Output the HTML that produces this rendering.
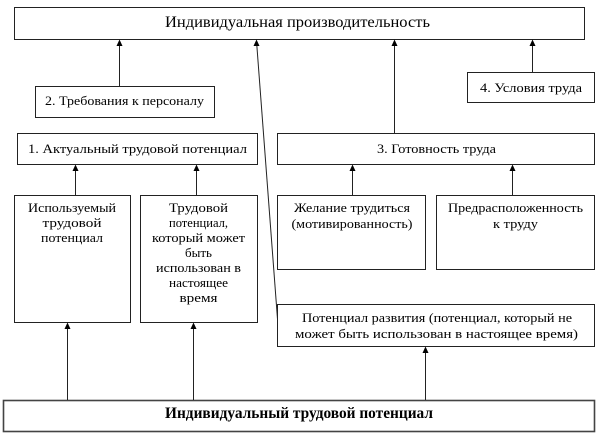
<!DOCTYPE html>
<html><head><meta charset="utf-8"><style>
html,body{margin:0;padding:0;background:#fff;}
svg{display:block;}
text{font-family:"Liberation Serif","Noto Serif CJK SC",serif;fill:#000;}
</style></head><body>
<svg width="601" height="436" viewBox="0 0 601 436" xmlns="http://www.w3.org/2000/svg">
<g fill="none" stroke="#222" stroke-width="1">
<rect x="14.5" y="7.5" width="570" height="32"/>
<rect x="35.5" y="86.5" width="179" height="31"/>
<rect x="17.5" y="133.5" width="240" height="31"/>
<rect x="277.5" y="133.5" width="317" height="31"/>
<rect x="467.5" y="72.5" width="127" height="30"/>
<rect x="14.5" y="195.5" width="116" height="127"/>
<rect x="140.5" y="195.5" width="117" height="127"/>
<rect x="277.5" y="195.5" width="148" height="74"/>
<rect x="436.5" y="195.5" width="158" height="74"/>
<rect x="277.5" y="304.5" width="317" height="42"/>
</g>
<rect x="3.5" y="400.5" width="591" height="31" fill="none" stroke="#444" stroke-width="1.6"/>
<g stroke="#222" stroke-width="1">
<line x1="119.5" y1="86" x2="119.5" y2="45"/>
<line x1="394.5" y1="133" x2="394.5" y2="45"/>
<line x1="532.5" y1="72" x2="532.5" y2="45"/>
<line x1="75.5" y1="195" x2="75.5" y2="170"/>
<line x1="196.5" y1="195" x2="196.5" y2="170"/>
<line x1="352.5" y1="195" x2="352.5" y2="170"/>
<line x1="512.5" y1="195" x2="512.5" y2="170"/>
<line x1="67.5" y1="400" x2="67.5" y2="328"/>
<line x1="193.5" y1="400" x2="193.5" y2="328"/>
<line x1="425.5" y1="400" x2="425.5" y2="352"/>
<line x1="277.5" y1="319" x2="256.8" y2="45"/>
</g>
<g fill="#000">
<polygon points="119.5,39.5 116.5,46 122.5,46"/>
<polygon points="394.5,39.5 391.5,46 397.5,46"/>
<polygon points="532.5,39.5 529.5,46 535.5,46"/>
<polygon points="75.5,164.5 72.5,171 78.5,171"/>
<polygon points="196.5,164.5 193.5,171 199.5,171"/>
<polygon points="352.5,164.5 349.5,171 355.5,171"/>
<polygon points="512.5,164.5 509.5,171 515.5,171"/>
<polygon points="67.5,322.5 64.5,329 70.5,329"/>
<polygon points="193.5,322.5 190.5,329 196.5,329"/>
<polygon points="425.5,346.5 422.5,353 428.5,353"/>
<polygon points="256.5,39.5 253.5,46 259.5,46"/>
</g>
<g text-anchor="middle" font-size="13">
<text x="297.5" y="27" font-size="16" textLength="265" lengthAdjust="spacingAndGlyphs">Индивидуальная производительность</text>
<text x="299" y="418" font-size="16" font-weight="bold" textLength="268" lengthAdjust="spacingAndGlyphs">Индивидуальный трудовой потенциал</text>
<text x="124.5" y="105" textLength="159" lengthAdjust="spacingAndGlyphs">2. Требования к персоналу</text>
<text x="137.5" y="153" textLength="219" lengthAdjust="spacingAndGlyphs">1. Актуальный трудовой потенциал</text>
<text x="436.5" y="153" textLength="119" lengthAdjust="spacingAndGlyphs">3. Готовность труда</text>
<text x="531" y="92" textLength="102" lengthAdjust="spacingAndGlyphs">4. Условия труда</text>
<text x="72" y="212" textLength="88" lengthAdjust="spacingAndGlyphs">Используемый</text>
<text x="72" y="227" textLength="59" lengthAdjust="spacingAndGlyphs">трудовой</text>
<text x="72" y="242" textLength="62" lengthAdjust="spacingAndGlyphs">потенциал</text>
<text x="198.5" y="212" textLength="59" lengthAdjust="spacingAndGlyphs">Трудовой</text>
<text x="198.5" y="227" textLength="59" lengthAdjust="spacingAndGlyphs">потенциал,</text>
<text x="198.5" y="242" textLength="93" lengthAdjust="spacingAndGlyphs">который может</text>
<text x="198.5" y="257" textLength="27" lengthAdjust="spacingAndGlyphs">быть</text>
<text x="198.5" y="272" textLength="85" lengthAdjust="spacingAndGlyphs">использован в</text>
<text x="198.5" y="287" textLength="59" lengthAdjust="spacingAndGlyphs">настоящее</text>
<text x="198.5" y="302" textLength="38" lengthAdjust="spacingAndGlyphs">время</text>
<text x="352" y="212" textLength="116" lengthAdjust="spacingAndGlyphs">Желание трудиться</text>
<text x="352" y="228" textLength="121" lengthAdjust="spacingAndGlyphs">(мотивированность)</text>
<text x="515.5" y="212" textLength="135" lengthAdjust="spacingAndGlyphs">Предрасположенность</text>
<text x="515.5" y="228" textLength="45" lengthAdjust="spacingAndGlyphs">к труду</text>
<text x="437" y="322" textLength="270" lengthAdjust="spacingAndGlyphs">Потенциал развития (потенциал, который не</text>
<text x="436.5" y="338" textLength="283" lengthAdjust="spacingAndGlyphs">может быть использован в настоящее время)</text>
</g>
</svg>
</body></html>
